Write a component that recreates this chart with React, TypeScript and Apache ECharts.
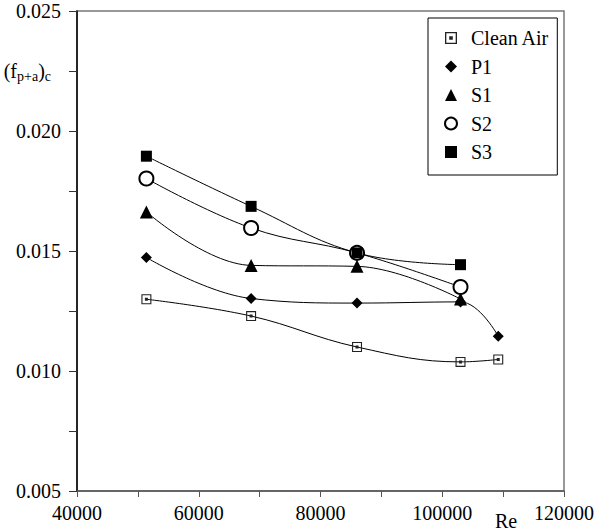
import React, { useEffect, useRef } from "react";
import * as echarts from "echarts";

const reynolds = [51400, 68600, 86000, 103000, 109200];
const cleanAir = [0.01299, 0.01229, 0.0110, 0.01038, 0.01048];
const p1 = [0.01473, 0.01302, 0.01283, 0.01288, 0.01145];
const s1 = [0.01663, 0.0144, 0.01436, 0.0130];
const s2 = [0.01802, 0.01596, 0.01492, 0.0135];
const s3 = [0.01895, 0.01686, 0.01492, 0.01443];
const seriesNames = ["Clean Air", "P1", "S1", "S2", "S3"];
const xTickLabels = [40000, 60000, 80000, 100000, 120000];

const FONT = "Liberation Serif";
const cleanIcon =
  "path://M0,0H10V10H0Z M1.1,1.1V8.9H8.9V1.1Z M3.5,3.5H6.5V6.5H3.5Z";

const pairs = (ys: number[]) => ys.map((y, i) => [reynolds[i], y]);

export default function App() {
  const ref = useRef<HTMLDivElement>(null);
  useEffect(() => {
    if (!ref.current) return;
    const chart = echarts.init(ref.current, null, { renderer: "svg" });
    const base = {
      type: "line" as const,
      smooth: 0.4,
      lineStyle: { color: "#000", width: 1 },
      itemStyle: { color: "#000" },
    };
    chart.setOption({
      animation: false,
      backgroundColor: "#fff",
      grid: {
        left: 77, top: 11, width: 490, height: 480, show: true,
        borderColor: "#777", borderWidth: 1.5, backgroundColor: "transparent",
      },
      legend: {
        orient: "vertical", left: 428, top: 18, itemWidth: 12, itemHeight: 12,
        itemGap: 8.5, padding: [10, 8, 13, 16], backgroundColor: "#fff",
        borderColor: "#000", borderWidth: 1, borderRadius: 0,
        textStyle: { fontFamily: FONT, fontSize: 20, color: "#000", lineHeight: 20, padding: [0, 0, 0, 9] },
        data: [
          { name: seriesNames[0], icon: cleanIcon, itemStyle: { color: "#222" } },
          { name: seriesNames[1], icon: "diamond" },
          { name: seriesNames[2], icon: "triangle" },
          { name: seriesNames[3], icon: "emptyCircle", itemStyle: { borderWidth: 1 } },
          { name: seriesNames[4], icon: "rect" },
        ],
      },
      xAxis: {
        type: "value", min: 40000, max: 120000, interval: 10000,
        axisLine: { show: true, lineStyle: { color: "#555", width: 1.5 } },
        axisTick: { show: true, inside: false, length: 6, lineStyle: { color: "#555" } },
        splitLine: { show: false },
        axisLabel: {
          interval: 0, margin: 12, fontFamily: FONT, fontSize: 20, color: "#000",
          showMinLabel: true, showMaxLabel: true,
          formatter: (v: number) => (xTickLabels.includes(Math.round(v)) ? String(Math.round(v)) : ""),
        },
      },
      yAxis: {
        type: "value", min: 0.005, max: 0.025, interval: 0.0025,
        axisLine: { show: true, lineStyle: { color: "#000", width: 1.5 } },
        axisTick: { show: true, inside: false, length: 8, lineStyle: { color: "#333" } },
        splitLine: { show: false },
        axisLabel: {
          margin: 16, fontFamily: FONT, fontSize: 20, color: "#000",
          showMinLabel: true, showMaxLabel: true,
          formatter: (v: number) => {
            const k = Math.round(v * 10000);
            if (k === 225) return "{a|(f}{s|p+a}{a|)}{t|c}";
            if (k % 50 === 0) return (k / 10000).toFixed(3);
            return "";
          },
          rich: {
            a: { fontFamily: FONT, fontSize: 20, color: "#000" },
            s: { fontFamily: FONT, fontSize: 14, color: "#000", padding: [10, 0, 0, 0] },
            t: { fontFamily: FONT, fontSize: 14, color: "#000", padding: [10, 10, 0, 0] },
          },
        },
      },
      graphic: [
        {
          type: "text", x: 506, y: 521,
          style: { text: "Re", fontFamily: FONT, fontSize: 20, fill: "#000", align: "center", verticalAlign: "middle" },
        },
      ],
      series: [
        { ...base, name: seriesNames[0], data: pairs(cleanAir), symbol: cleanIcon, symbolSize: 10, itemStyle: { color: "#222" } },
        { ...base, name: seriesNames[1], data: pairs(p1), symbol: "diamond", symbolSize: 11 },
        { ...base, name: seriesNames[2], data: pairs(s1), symbol: "triangle", symbolSize: 13 },
        { ...base, name: seriesNames[3], data: pairs(s2), symbol: "emptyCircle", symbolSize: 14, itemStyle: { color: "#000", borderWidth: 1 } },
        { ...base, name: seriesNames[4], data: pairs(s3), symbol: "rect", symbolSize: 11 },
      ],
    });
    return () => chart.dispose();
  }, []);
  return <div ref={ref} style={{ position: "absolute", left: 0, top: 0, width: 597, height: 531 }} />;
}
